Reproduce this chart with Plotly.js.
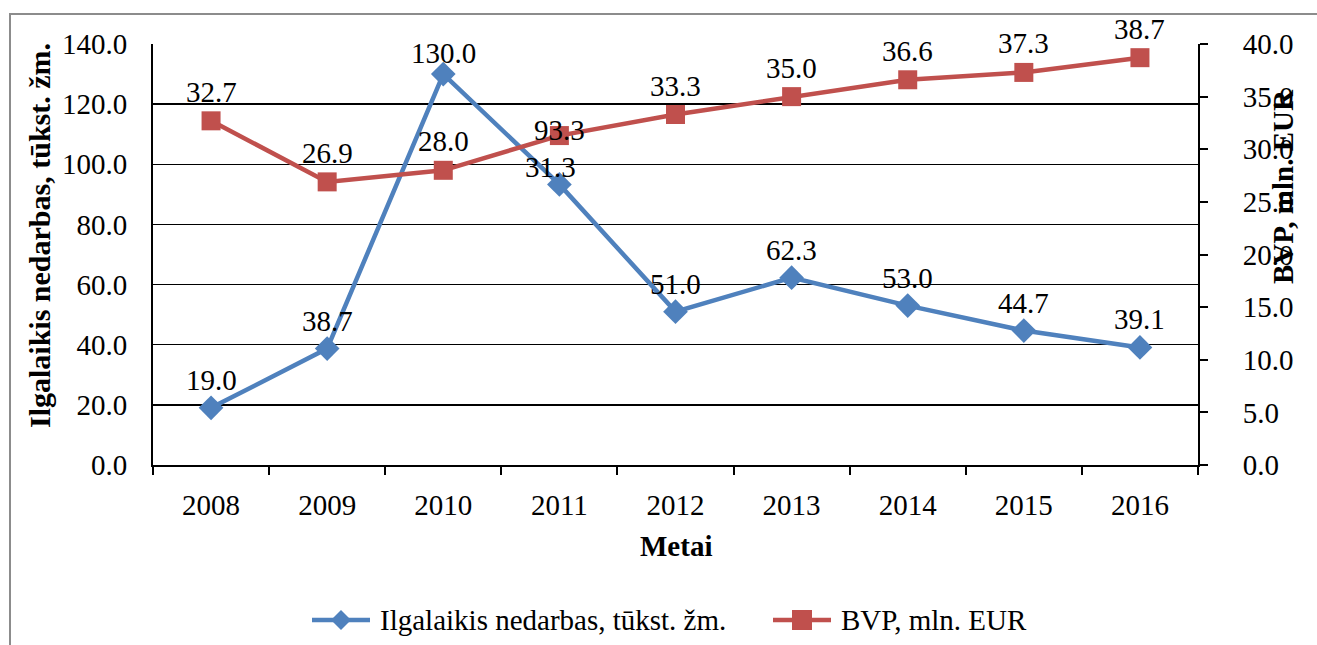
<!DOCTYPE html>
<html>
<head>
<meta charset="utf-8">
<script src="https://cdn.plot.ly/plotly-3.0.1.min.js"></script>
<style>
  html, body { margin: 0; padding: 0; background: #fff; overflow: hidden; }
  #chart { position: absolute; left: 0; top: 0; width: 1317px; height: 645px; }
  #frame { position: absolute; left: 9px; top: 13px; width: 1400px; height: 700px;
           border: 2px solid #8c8c8c; pointer-events: none; }
</style>
</head>
<body>
<div id="chart"></div>
<div id="frame"></div>
<script>
// ---- data ----
const years = ['2008', '2009', '2010', '2011', '2012', '2013', '2014', '2015', '2016'];
const unemployment = [19.0, 38.7, 130.0, 93.3, 51.0, 62.3, 53.0, 44.7, 39.1];
const gdp = [32.7, 26.9, 28.0, 31.3, 33.3, 35.0, 36.6, 37.3, 38.7];
const seriesNames = ['Ilgalaikis nedarbas, tūkst. žm.', 'BVP, mln. EUR'];
const leftTickVals = [0, 20, 40, 60, 80, 100, 120, 140];
const rightTickVals = [0, 5, 10, 15, 20, 25, 30, 35, 40];

// ---- layout geometry (pixels) ----
const W = 1317, H = 645;
const L = 153, R = 1198, T = 44, B = 465;
const px = x => (x - L) / (R - L);
const py = y => (B - y) / (B - T);

const FONT = 'Liberation Serif';
const FS = 29;
const BLUE = '#4F81BD', RED = '#C0504D';

const traces = [
  {
    x: years, y: unemployment, name: seriesNames[0], type: 'scatter', mode: 'lines+markers',
    line: { color: BLUE, width: 4.5 },
    marker: { symbol: 'diamond', size: 19, color: BLUE },
    xaxis: 'x', yaxis: 'y', cliponaxis: false
  },
  {
    x: years, y: gdp, name: seriesNames[1], type: 'scatter', mode: 'lines+markers',
    line: { color: RED, width: 4.5 },
    marker: { symbol: 'square', size: 19, color: RED },
    xaxis: 'x', yaxis: 'y2', cliponaxis: false
  }
];

// data labels (x given as category index)
const annotations = [];
const fmt = v => v.toFixed(1);
unemployment.forEach((v, i) => {
  let ys = 28, xs = 0;
  if (years[i] === '2010') ys = 21;
  if (years[i] === '2011') ys = 54;
  annotations.push({ x: i, y: v, xref: 'x', yref: 'y', text: fmt(v), showarrow: false,
    xanchor: 'center', yanchor: 'middle',
    yshift: ys, xshift: xs, font: { family: FONT, size: FS, color: '#000' } });
});
gdp.forEach((v, i) => {
  let ys = 29, xs = 0;
  if (years[i] === '2011') { ys = -31; xs = -9; }
  annotations.push({ x: i, y: v, xref: 'x', yref: 'y2', text: fmt(v), showarrow: false,
    xanchor: 'center', yanchor: 'middle',
    yshift: ys, xshift: xs, font: { family: FONT, size: FS, color: '#000' } });
});
// axis titles
const titleAnn = (x, y, text, angle, size) => ({
  xref: 'paper', yref: 'paper', x: px(x), y: py(y), text: text, textangle: angle,
  xanchor: 'center', yanchor: 'middle', showarrow: false,
  font: { family: FONT, size: size, color: '#000' }
});
annotations.push(titleAnn(40, 236, '<b>Ilgalaikis nedarbas, tūkst. žm.</b>', -90, 30));
annotations.push(titleAnn(1283, 187, '<b>BVP, mln. EUR</b>', -90, FS));
annotations.push(titleAnn(676, 546, '<b>Metai</b>', 0, FS));

// custom legend (symbol + text), styled like the series
const LEG_Y = 620;
const legendItems = [
  { name: seriesNames[0], color: BLUE, symbol: 'diamond', x0: 312, x1: 370 },
  { name: seriesNames[1], color: RED, symbol: 'square', x0: 773, x1: 831 }
];
const shapes = [];
legendItems.forEach(it => {
  shapes.push({ type: 'line', xref: 'paper', yref: 'paper', x0: px(it.x0), x1: px(it.x1),
    y0: py(LEG_Y), y1: py(LEG_Y), line: { color: it.color, width: 4.5 } });
  const cx = (it.x0 + it.x1) / 2;
  let path;
  if (it.symbol === 'diamond') {
    const r = 10;
    path = `M ${px(cx)} ${py(LEG_Y - r)} L ${px(cx + r)} ${py(LEG_Y)} L ${px(cx)} ${py(LEG_Y + r)} L ${px(cx - r)} ${py(LEG_Y)} Z`;
  } else {
    const r = 10;
    path = `M ${px(cx - r)} ${py(LEG_Y - r)} L ${px(cx + r)} ${py(LEG_Y - r)} L ${px(cx + r)} ${py(LEG_Y + r)} L ${px(cx - r)} ${py(LEG_Y + r)} Z`;
  }
  shapes.push({ type: 'path', xref: 'paper', yref: 'paper', path: path,
    fillcolor: it.color, line: { width: 0 } });
  annotations.push({ xref: 'paper', yref: 'paper', x: px(it.x1 + 8), y: py(LEG_Y), text: it.name,
    xanchor: 'left', yanchor: 'middle', showarrow: false,
    font: { family: FONT, size: FS, color: '#000' } });
});

const layout = {
  width: W, height: H,
  margin: { l: L, r: W - R, t: T, b: H - B, pad: 0, autoexpand: false },
  paper_bgcolor: '#fff', plot_bgcolor: '#fff',
  font: { family: FONT, size: FS, color: '#000' },
  showlegend: false,
  xaxis: {
    type: 'category', range: [-0.5, years.length - 0.5],
    showline: true, linecolor: '#000', linewidth: 2,
    ticks: 'outside', tickson: 'boundaries', ticklen: 8, tickcolor: '#000', tickwidth: 2,
    showgrid: false, zeroline: false, ticklabelstandoff: 13,
    tickfont: { family: FONT, size: FS, color: '#000' }
  },
  yaxis: {
    range: [0, 140], tickvals: leftTickVals, ticktext: leftTickVals.map(fmt),
    showline: true, linecolor: '#000', linewidth: 2,
    ticks: '', showgrid: true, gridcolor: '#000', gridwidth: 1.5, zeroline: false,
    ticklabelstandoff: 18,
    tickfont: { family: FONT, size: FS, color: '#000' }
  },
  yaxis2: {
    overlaying: 'y', side: 'right', range: [0, 40], tickvals: rightTickVals, ticktext: rightTickVals.map(fmt),
    showline: true, linecolor: '#000', linewidth: 2,
    ticks: 'outside', ticklen: 8, tickcolor: '#000', tickwidth: 2,
    showgrid: false, zeroline: false, ticklabelstandoff: 29,
    tickfont: { family: FONT, size: FS, color: '#000' }
  },
  shapes: shapes,
  annotations: annotations
};

Plotly.newPlot('chart', traces, layout, { displayModeBar: false, staticPlot: true });
</script>
</body>
</html>
